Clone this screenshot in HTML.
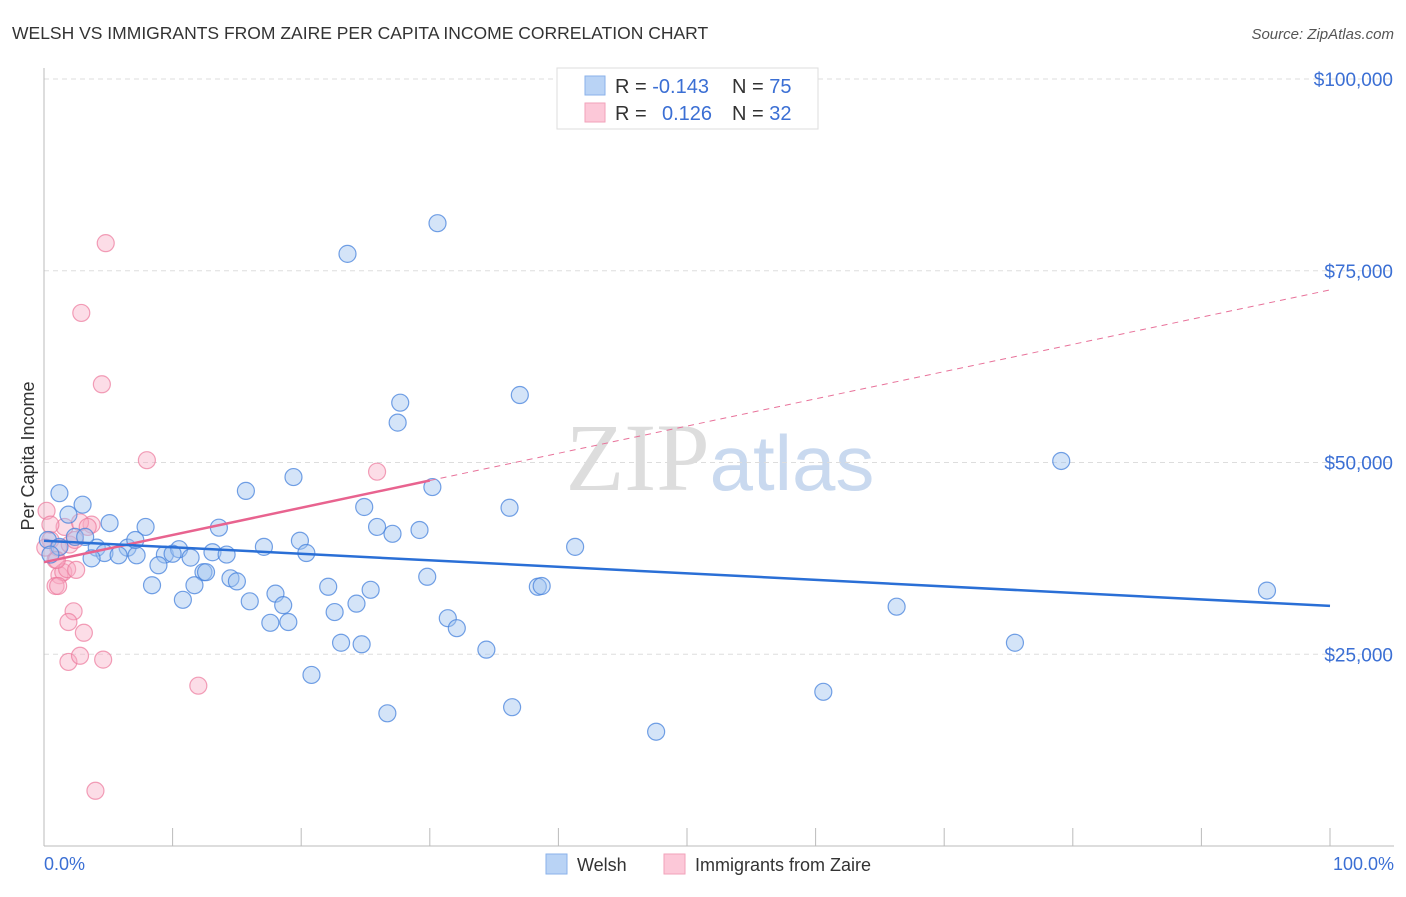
<!DOCTYPE html>
<html><head><meta charset="utf-8"><style>
body{margin:0;background:#fff;font-family:"Liberation Sans",sans-serif;}
svg text{font-family:"Liberation Sans",sans-serif;}
</style></head><body>
<svg id="c" width="1406" height="892">
<text x="12" y="39" font-size="17.5" fill="#333">WELSH VS IMMIGRANTS FROM ZAIRE PER CAPITA INCOME CORRELATION CHART</text>
<text x="1394" y="39" font-size="15" fill="#555" font-style="italic" text-anchor="end">Source: ZipAtlas.com</text>
<text x="720" y="490" font-size="96" fill="#ddd" text-anchor="middle" font-family="Liberation Serif"><tspan font-family="Liberation Serif">ZIP</tspan><tspan fill="#c9d9ef" font-size="78" font-family="Liberation Sans">atlas</tspan></text>
<text transform="translate(34,456) rotate(-90)" font-size="18" fill="#333" text-anchor="middle">Per Capita Income</text>
<g id="grid"></g><g id="marks"></g>
<g>
<rect x="557" y="68" width="261" height="61" fill="#fff" stroke="#ddd"/>
<rect x="585" y="76" width="20" height="19" fill="#b9d3f5" stroke="#8ab2ea"/>
<rect x="585" y="103" width="20" height="19" fill="#fcc8d8" stroke="#f2a2ba"/>
<text x="615" y="93" font-size="20" fill="#333">R = <tspan fill="#3b6fd4">-0.143</tspan><tspan x="732">N = </tspan><tspan fill="#3b6fd4">75</tspan></text>
<text x="615" y="120" font-size="20" fill="#333">R = <tspan x="662" fill="#3b6fd4">0.126</tspan><tspan x="732">N = </tspan><tspan fill="#3b6fd4">32</tspan></text>
</g>
<text x="44" y="870" font-size="18" fill="#3b6fd4">0.0%</text>
<text x="1394" y="870" font-size="18" fill="#3b6fd4" text-anchor="end">100.0%</text>
<g>
<rect x="546" y="854" width="21" height="20" fill="#b9d3f5" stroke="#8ab2ea"/>
<text x="577" y="871" font-size="18" fill="#333">Welsh</text>
<rect x="664" y="854" width="21" height="20" fill="#fcc8d8" stroke="#f2a2ba"/>
<text x="695" y="871" font-size="18" fill="#333">Immigrants from Zaire</text>
</g>
</svg>
<script>
const yTicks=[25000,50000,75000,100000];
const yTickLabels=["$25,000","$50,000","$75,000","$100,000"];
const welshX=[23.6,30.6,37.0,27.7,27.5,79.1,19.4,30.2,15.7,1.2,36.2,24.9,5.1,7.9,13.6,25.9,29.2,27.1,1.9,2.4,4.1,4.7,6.5,7.2,3.7,5.8,9.4,10.5,11.4,13.1,14.2,17.1,19.9,20.4,41.3,8.9,10.0,12.4,12.6,14.5,15.0,8.4,11.7,22.1,25.4,29.8,38.4,38.7,18.0,16.0,18.6,10.8,24.3,22.6,31.4,32.1,17.6,19.0,66.3,95.1,23.1,24.7,75.5,34.4,20.8,60.6,26.7,36.4,47.6,3.0,0.3,1.2,3.2,7.1,0.5];
const welshY=[77200,81200,58800,57800,55200,50200,48100,46800,46300,46000,44100,44200,42100,41600,41500,41600,41200,40700,43200,40300,38900,38200,38900,37900,37500,37900,38000,38700,37600,38300,38000,39000,39800,38200,39000,36600,38100,35700,35700,34900,34500,34000,34000,33800,33400,35100,33800,33900,32900,31900,31400,32100,31600,30500,29700,28400,29100,29200,31200,33300,26500,26300,26500,25600,22300,20100,17300,18100,14900,44500,39900,39000,40300,39900,38000];
const zaireX=[4.8,2.9,4.5,8.0,25.9,0.2,1.6,3.7,2.8,0.5,1.1,0.9,2.0,1.2,1.5,1.8,2.5,0.9,1.1,2.3,1.9,3.1,1.9,2.8,4.6,12.0,4.0,0.5,3.4,0.1,1.0,2.4];
const zaireY=[78600,69500,60200,50300,48800,43700,41600,41900,42200,39900,38900,37300,39300,35300,35700,36100,36000,33900,33900,30600,29200,27800,24000,24800,24300,20900,7200,41900,41600,38900,37300,39900];
const welshTrend=[39800,31300];
const zaireTrend=[37000,72500];
const zaireSolidEnd=30;
const X=v=>44+v*12.86, Y=v=>846-v*0.00767;
const NS='http://www.w3.org/2000/svg';
const g=document.getElementById('grid'), m=document.getElementById('marks');
function mk(tag,a,p){const e=document.createElementNS(NS,tag);for(const k in a)e.setAttribute(k,a[k]);p.appendChild(e);return e;}
yTicks.forEach((t,i)=>{
 const l=mk('line',{x1:44,x2:1394,y1:Y(t),y2:Y(t),stroke:'#ddd','stroke-dasharray':'5,4'},g);
 
 
 const tx=mk('text',{x:1393,y:Y(t)+7,'font-size':19,fill:'#3b6fd4','text-anchor':'end'},g);
 tx.textContent=yTickLabels[i];
 
 
});
const ax=mk('line',{x1:44,x2:44,y1:68,y2:846,stroke:'#bbb'},g);


const bx=mk('line',{x1:44,x2:1394,y1:846,y2:846,stroke:'#bbb'},g);


for(let i=1;i<=10;i++){const t=mk('line',{x1:X(i*10),x2:X(i*10),y1:828,y2:846,stroke:'#bbb'},g);
 
 }
zaireX.forEach((x,i)=>{const c=mk('circle',{cx:X(x),cy:Y(zaireY[i]),r:8.5,fill:'rgba(248,170,195,0.4)',stroke:'rgba(236,120,155,0.7)','stroke-width':1.2},m);
 
 });
welshX.forEach((x,i)=>{const c=mk('circle',{cx:X(x),cy:Y(welshY[i]),r:8.5,fill:'rgba(160,196,240,0.45)',stroke:'rgba(70,130,220,0.75)','stroke-width':1.2},m);
 
 });
const zy=x=>zaireTrend[0]+(zaireTrend[1]-zaireTrend[0])*x/100;
const zd=mk('line',{x1:X(zaireSolidEnd),y1:Y(zy(zaireSolidEnd)),x2:X(100),y2:Y(zy(100)),stroke:'#e8729a','stroke-width':1,'stroke-dasharray':'6,5'},m);


const zs=mk('line',{x1:X(0),y1:Y(zy(0)),x2:X(zaireSolidEnd),y2:Y(zy(zaireSolidEnd)),stroke:'#e8638f','stroke-width':2.5},m);


const wl=mk('line',{x1:X(0),y1:Y(welshTrend[0]),x2:X(100),y2:Y(welshTrend[1]),stroke:'#2a6fd6','stroke-width':2.5},m);


</script>
</body></html>
